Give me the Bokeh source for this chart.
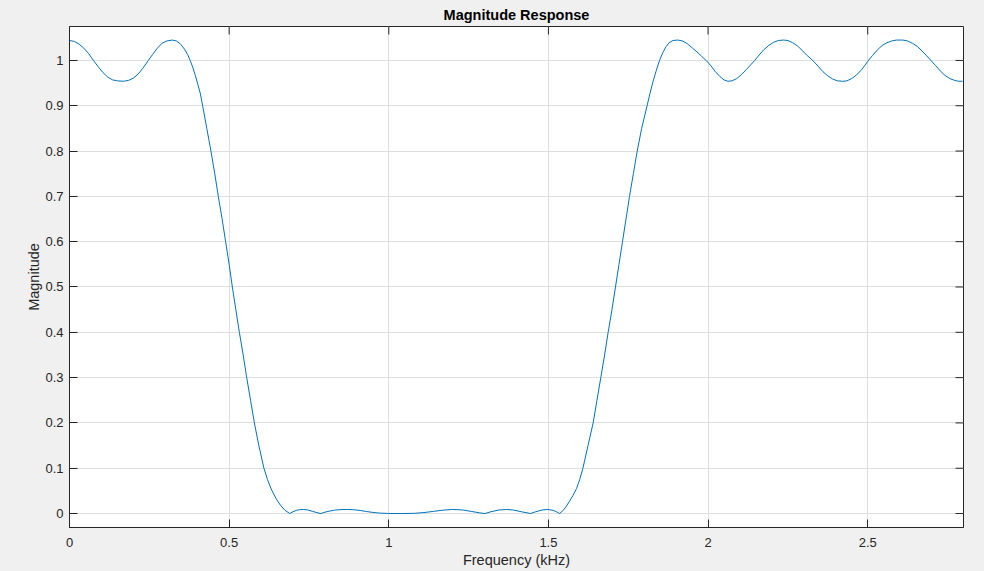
import math
from bokeh.plotting import figure
from bokeh.models import FixedTicker
from bokeh.embed import file_html
from bokeh.resources import INLINE

# ---- data (frequency in kHz, magnitude) ----
pass1_f = [0.0, 0.015, 0.03, 0.045, 0.06, 0.075, 0.09, 0.105, 0.12, 0.135, 0.15, 0.169,
           0.185, 0.20, 0.215, 0.23, 0.247, 0.26, 0.275, 0.29, 0.305, 0.322, 0.335, 0.348,
           0.36, 0.37, 0.378, 0.386, 0.394, 0.402, 0.41]
pass1_m = [1.044, 1.042, 1.036, 1.027, 1.015, 1.000, 0.986, 0.973, 0.963, 0.957, 0.955, 0.954,
           0.956, 0.961, 0.970, 0.983, 1.000, 1.013, 1.027, 1.038, 1.043, 1.045, 1.043, 1.036,
           1.025, 1.013, 1.000, 0.985, 0.967, 0.947, 0.926]

trans1_f = [0.417, 0.43, 0.443, 0.455, 0.466, 0.478, 0.489, 0.50, 0.510, 0.521, 0.532, 0.544,
            0.555, 0.567, 0.579, 0.593, 0.609, 0.62, 0.633, 0.647, 0.661, 0.675, 0.69]
trans1_m = [0.90, 0.85, 0.80, 0.75, 0.70, 0.65, 0.60, 0.55, 0.50, 0.45, 0.40, 0.35,
            0.30, 0.25, 0.20, 0.15, 0.10, 0.075, 0.052, 0.033, 0.018, 0.007, 0.0]

stop_f = [0.70, 0.71, 0.72, 0.732, 0.745, 0.76, 0.775, 0.787, 0.80, 0.815, 0.83, 0.85, 0.87,
          0.89, 0.91, 0.93, 0.95, 0.97, 1.0, 1.04, 1.08, 1.11, 1.14, 1.17, 1.2, 1.23, 1.26,
          1.285, 1.301, 1.32, 1.345, 1.369, 1.39, 1.415, 1.444, 1.46, 1.48, 1.499, 1.515,
          1.525, 1.535]
stop_m = [0.004, 0.007, 0.0085, 0.009, 0.008, 0.005, 0.002, 0.0, 0.003, 0.0055, 0.0075, 0.0088, 0.009,
          0.0085, 0.0068, 0.0045, 0.0025, 0.001, 0.0002, 0.0, 0.0005, 0.0022, 0.0048, 0.0075, 0.009, 0.008, 0.0045,
          0.0015, 0.0, 0.004, 0.0078, 0.009, 0.0078, 0.004, 0.0, 0.004, 0.0078, 0.009, 0.007,
          0.004, 0.0]

trans2_f = [1.545, 1.555, 1.565, 1.577, 1.588, 1.598, 1.608, 1.624, 1.640, 1.652, 1.664, 1.676,
            1.687, 1.699, 1.710, 1.721, 1.732, 1.743, 1.754, 1.766, 1.778, 1.792, 1.809, 1.818,
            1.827, 1.837, 1.848, 1.858, 1.868, 1.878, 1.89]
trans2_m = [0.006, 0.015, 0.026, 0.04, 0.055, 0.075, 0.10, 0.15, 0.20, 0.25, 0.30, 0.35,
            0.40, 0.45, 0.50, 0.55, 0.60, 0.65, 0.70, 0.75, 0.80, 0.85, 0.90, 0.927,
            0.952, 0.976, 1.000, 1.017, 1.030, 1.039, 1.044]

pass2_f = [1.905, 1.92, 1.935, 1.95, 1.965, 1.98, 1.994, 2.008, 2.022, 2.036, 2.05, 2.062,
           2.075, 2.09, 2.105, 2.12, 2.133, 2.146, 2.16, 2.175, 2.19, 2.205, 2.22, 2.236,
           2.25, 2.265, 2.28, 2.295, 2.31, 2.328, 2.345, 2.36, 2.375, 2.39, 2.405, 2.422,
           2.435, 2.45, 2.465, 2.48, 2.49, 2.50, 2.515, 2.53, 2.545, 2.56, 2.575, 2.59,
           2.61, 2.625, 2.64, 2.655, 2.67, 2.685, 2.698, 2.712, 2.727, 2.742, 2.757, 2.772,
           2.785, 2.797]
pass2_m = [1.045, 1.043, 1.037, 1.028, 1.019, 1.009, 1.000, 0.989, 0.976, 0.965, 0.957, 0.954,
           0.955, 0.960, 0.969, 0.980, 0.990, 1.000, 1.012, 1.024, 1.033, 1.040, 1.044, 1.045,
           1.044, 1.039, 1.032, 1.022, 1.011, 1.000, 0.987, 0.975, 0.966, 0.959, 0.955, 0.954,
           0.955, 0.960, 0.968, 0.979, 0.988, 0.998, 1.011, 1.023, 1.033, 1.039, 1.043, 1.045,
           1.045, 1.043, 1.038, 1.031, 1.021, 1.010, 1.000, 0.989, 0.977, 0.967, 0.960, 0.956,
           0.954, 0.954]

freq_khz = pass1_f + trans1_f + stop_f + trans2_f + pass2_f
magnitude = pass1_m + trans1_m + stop_m + trans2_m + pass2_m

x_ticks = [0, 0.5, 1, 1.5, 2, 2.5]
x_tick_labels = ["0", "0.5", "1", "1.5", "2", "2.5"]
y_ticks = [0, 0.1, 0.2, 0.3, 0.4, 0.5, 0.6, 0.7, 0.8, 0.9, 1]
y_tick_labels = ["0", "0.1", "0.2", "0.3", "0.4", "0.5", "0.6", "0.7", "0.8", "0.9", "1"]

x_lim = (0, 2.8)
y_lim = (-0.0308, 1.0749)

title_text = "Magnitude Response"
x_label = "Frequency (kHz)"
y_label = "Magnitude"

# ---- styling ----
FONT = "Liberation Sans"
TXT = "#262626"
AX = "#262626"
GRID = "#dfdfdf"
BG = "#f0f0f0"
LINE = "#0072BD"
TICK_LEN = 8

p = figure(width=984, height=571, x_range=x_lim, y_range=y_lim,
           output_backend="svg", toolbar_location=None,
           min_border_left=69, min_border_right=21, min_border_top=25, min_border_bottom=44)
p.border_fill_color = BG
p.background_fill_color = "white"
p.outline_line_color = AX
p.outline_line_width = 1

p.title.text = title_text
p.title.align = "center"
p.title.text_font = FONT
p.title.text_font_size = "14.5px"
p.title.text_font_style = "bold"
p.title.text_color = "#000000"
p.title.standoff = 8


def style_axis(ax, ticks, labels):
    ax.ticker = FixedTicker(ticks=ticks)
    ax.major_label_overrides = {t: s for t, s in zip(ticks, labels)}
    ax.axis_line_color = AX
    ax.major_tick_line_color = AX
    ax.major_tick_in = TICK_LEN
    ax.major_tick_out = 0
    ax.minor_tick_line_color = None
    ax.major_label_text_font = FONT
    ax.major_label_text_color = TXT
    ax.major_label_text_font_size = "13px"
    ax.axis_label_text_font = FONT
    ax.axis_label_text_color = TXT
    ax.axis_label_text_font_style = "normal"
    ax.axis_label_text_font_size = "14.5px"


xb = p.xaxis[0]
style_axis(xb, x_ticks, x_tick_labels)
xb.axis_label = x_label
xb.major_label_standoff = 10
xb.axis_label_standoff = 2

yl = p.yaxis[0]
style_axis(yl, y_ticks, y_tick_labels)
yl.axis_label = y_label
yl.major_label_standoff = 6
yl.axis_label_standoff = 0

p.xgrid.ticker = FixedTicker(ticks=x_ticks)
p.ygrid.ticker = FixedTicker(ticks=y_ticks)
p.xgrid.grid_line_color = GRID
p.ygrid.grid_line_color = GRID

# inward ticks on the top and right edges of the box (half of each dash is clipped by the frame)
p.scatter(x=x_ticks, y=[y_lim[1]] * len(x_ticks), marker="dash", angle=math.pi / 2,
          size=2 * TICK_LEN, line_color=AX, line_width=1)
p.scatter(x=[x_lim[1]] * len(y_ticks), y=y_ticks, marker="dash",
          size=2 * TICK_LEN, line_color=AX, line_width=1)

p.line(freq_khz, magnitude, line_color=LINE, line_width=1.0)

html = file_html(p, INLINE)
html = html.replace("</head>", "<style>html, body { background: #f0f0f0; }</style></head>", 1)
open("out.html", "w").write(html)
